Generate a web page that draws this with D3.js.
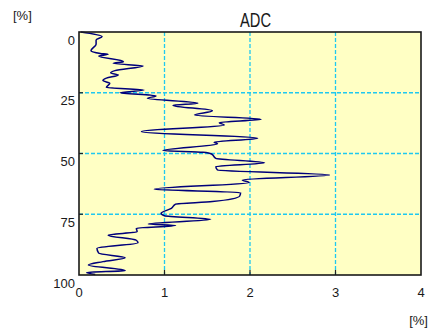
<!DOCTYPE html>
<html>
<head>
<meta charset="utf-8">
<script src="https://cdn.jsdelivr.net/npm/d3@7"></script>
<style>
  body { margin: 0; background: #fff; }
  text { font-family: "Liberation Sans", Arial, sans-serif; fill: #1a1a1a; }
</style>
</head>
<body>
<div id="chart"></div>
<script>
// depth (y axis, %) and ADC value (x axis, %)
const depth = [0, 1.9, 3.3, 5.0, 7.7, 8.8, 9.2, 9.9, 12.2, 12.9, 14.0, 15.9, 16.8, 17.7, 19.0, 20.0,
  21.1, 22.8, 23.9, 25.0, 26.3, 27.3, 29.3, 30.2, 32.4, 34.2, 35.9, 37.3, 38.3, 41.0, 43.7, 45.4,
  46.0, 48.8, 49.5, 50.2, 52.0, 53.8, 55.4, 56.8, 58.8, 60.9, 61.9, 64.7, 66.1, 67.5, 69.8, 70.8,
  72.6, 74.6, 75.6, 77.1, 79.0, 79.6, 80.8, 82.2, 83.6, 85.7, 86.7, 89.0, 91.0, 92.9, 94.5, 95.9,
  98.2, 99.0, 99.8];
const adc = [0.02, 0.27, 0.20, 0.20, 0.14, 0.25, 0.34, 0.23, 0.52, 0.40, 0.75, 0.42, 0.37, 0.46, 0.32, 0.28,
  0.36, 0.32, 0.76, 0.48, 0.90, 0.80, 1.39, 1.10, 1.56, 1.35, 2.13, 1.64, 1.70, 0.73, 2.09, 1.58,
  1.62, 0.98, 1.45, 1.55, 1.60, 2.17, 1.60, 1.62, 2.93, 1.91, 1.99, 0.88, 1.89, 1.88, 1.56, 1.13,
  1.08, 0.96, 1.00, 1.54, 0.81, 1.13, 0.67, 0.68, 0.34, 0.67, 0.69, 0.21, 0.23, 0.54, 0.28, 0.11,
  0.54, 0.09, 0.19];

const xTicks = [0, 1, 2, 3, 4];
const yTicks = [0, 25, 50, 75, 100];
const title = "ADC";
const unit = "[%]";

const width = 430, height = 331;
const plot = { left: 79, right: 421, top: 32, bottom: 275 };

const svg = d3.select("#chart").append("svg")
  .attr("width", width)
  .attr("height", height);

const x = d3.scaleLinear().domain([0, 4]).range([plot.left, plot.right]);
const y = d3.scaleLinear().domain([0, 100]).range([plot.top, plot.bottom]);

// plot background
svg.append("rect")
  .attr("x", plot.left).attr("y", plot.top)
  .attr("width", plot.right - plot.left).attr("height", plot.bottom - plot.top)
  .attr("fill", "#ffffc4");

// dashed grid
svg.append("g").selectAll("line")
  .data(xTicks.slice(1, -1))
  .enter().append("line")
  .attr("x1", d => x(d)).attr("x2", d => x(d))
  .attr("y1", plot.top).attr("y2", plot.bottom)
  .attr("stroke", "#1ec8f0").attr("stroke-width", 1.3)
  .attr("stroke-dasharray", "4,2");

svg.append("g").selectAll("line")
  .data(yTicks.slice(1, -1))
  .enter().append("line")
  .attr("x1", plot.left).attr("x2", plot.right)
  .attr("y1", d => y(d)).attr("y2", d => y(d))
  .attr("stroke", "#1ec8f0").attr("stroke-width", 1.3)
  .attr("stroke-dasharray", "4,2");

// small inner tick marks
svg.append("g").selectAll("line")
  .data(xTicks.slice(1, -1))
  .enter().append("line")
  .attr("x1", d => x(d)).attr("x2", d => x(d))
  .attr("y1", plot.bottom).attr("y2", plot.bottom - 5)
  .attr("stroke", "#222").attr("stroke-width", 1.2);

svg.append("g").selectAll("line")
  .data(yTicks.slice(1, -1))
  .enter().append("line")
  .attr("x1", plot.left).attr("x2", plot.left + 4)
  .attr("y1", d => y(d)).attr("y2", d => y(d))
  .attr("stroke", "#222").attr("stroke-width", 1.2);

// the profile line
const points = depth.map((d, i) => ({ depth: d, value: adc[i] }));
const line = d3.line()
  .x(d => x(d.value))
  .y(d => y(d.depth))
  .curve(d3.curveMonotoneY);

svg.append("path")
  .datum(points)
  .attr("d", line)
  .attr("fill", "none")
  .attr("stroke", "#00007a")
  .attr("stroke-width", 1.5);

// frame
svg.append("rect")
  .attr("x", plot.left).attr("y", plot.top)
  .attr("width", plot.right - plot.left).attr("height", plot.bottom - plot.top)
  .attr("fill", "none")
  .attr("stroke", "#1a1a1a").attr("stroke-width", 1.6);

// tick labels
svg.append("g").selectAll("text")
  .data(xTicks)
  .enter().append("text")
  .attr("x", d => x(d))
  .attr("y", plot.bottom + 22)
  .attr("text-anchor", "middle")
  .style("font-size", "13px")
  .text(d => d);

svg.append("g").selectAll("text")
  .data(yTicks)
  .enter().append("text")
  .attr("x", plot.left - 4)
  .attr("y", d => y(d) + 12.5)
  .attr("text-anchor", "end")
  .style("font-size", "13px")
  .text(d => d);

// title and unit labels
svg.append("text")
  .attr("x", 255.5).attr("y", 27)
  .attr("text-anchor", "middle")
  .attr("textLength", 31)
  .attr("lengthAdjust", "spacingAndGlyphs")
  .style("font-size", "20px")
  .text(title);

svg.append("text")
  .attr("x", 13).attr("y", 20)
  .style("font-size", "13px")
  .text(unit);

svg.append("text")
  .attr("x", 428).attr("y", 325)
  .attr("text-anchor", "end")
  .style("font-size", "13px")
  .text(unit);
</script>
</body>
</html>
